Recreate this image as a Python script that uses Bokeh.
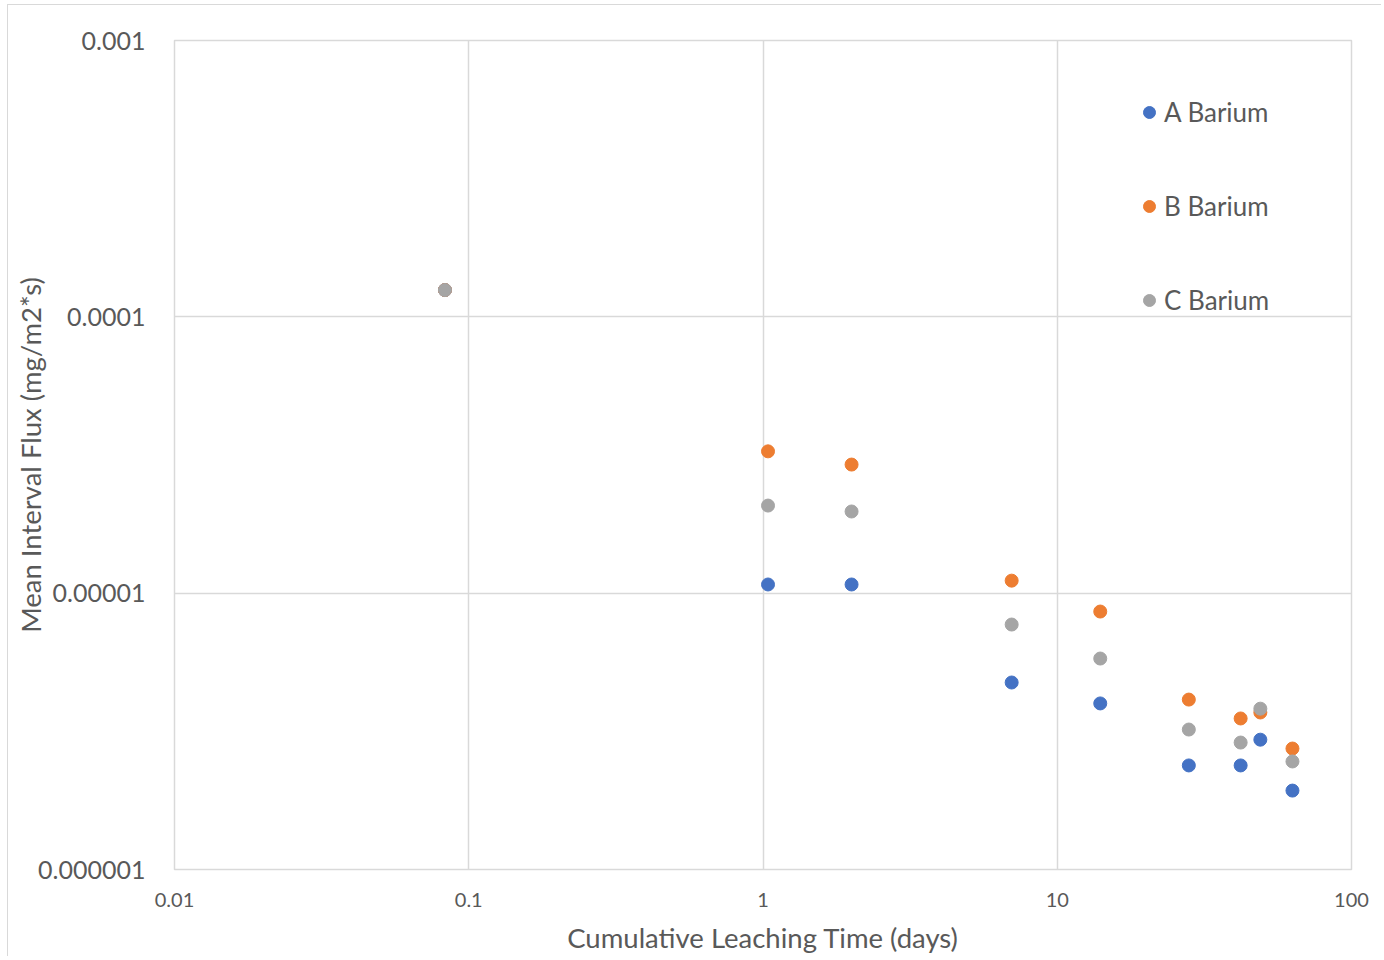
from bokeh.plotting import figure
from bokeh.models import (ColumnDataSource, FixedTicker, CustomJSTickFormatter,
                          Legend, LegendItem)
from bokeh.embed import file_html
from bokeh.resources import INLINE

# ---- data ----
days = [0.083, 1.04, 2, 7, 14, 28, 42, 49, 63]
a_barium = [1.25e-4, 1.075e-5, 1.075e-5, 4.75e-6, 3.99e-6, 2.38e-6, 2.38e-6, 2.95e-6, 1.93e-6]
b_barium = [1.25e-4, 3.26e-5, 2.92e-5, 1.11e-5, 8.58e-6, 4.12e-6, 3.52e-6, 3.70e-6, 2.74e-6]
c_barium = [1.25e-4, 2.075e-5, 1.975e-5, 7.70e-6, 5.80e-6, 3.21e-6, 2.88e-6, 3.82e-6, 2.46e-6]
series_names = ["A Barium", "B Barium", "C Barium"]
x_ticks = [0.01, 0.1, 1, 10, 100]
y_ticks = [1e-6, 1e-5, 1e-4, 1e-3]

colors = ["#4472C4", "#ED7D31", "#A5A5A5"]
FONT = "Lato"
TXT = "#595959"
GRID = "#d9d9d9"

W, H = 1374, 952
FL, FT, FR, FB = 166, 35, 1343, 864   # desired frame edges in figure coords
p = figure(width=W, height=H, x_axis_type="log", y_axis_type="log",
           x_range=(0.01, 100), y_range=(1e-6, 1e-3),
           output_backend="svg", toolbar_location=None,
           min_border_left=FL, min_border_right=W - FR,
           min_border_top=FT, min_border_bottom=H - FB)
p.styles = {"margin-left": "7px", "margin-top": "4px",
            "border-left": f"1px solid {GRID}", "border-top": f"1px solid {GRID}"}

p.outline_line_color = GRID
p.outline_line_width = 1.5

p.xaxis.ticker = FixedTicker(ticks=x_ticks, minor_ticks=[])
p.yaxis.ticker = FixedTicker(ticks=y_ticks, minor_ticks=[])
fmt_code = "return tick.toFixed(Math.max(0, Math.round(-Math.log10(tick))));"
p.xaxis.formatter = CustomJSTickFormatter(code=fmt_code)
p.yaxis.formatter = CustomJSTickFormatter(code=fmt_code)

for ax in (p.xaxis, p.yaxis):
    ax.axis_line_color = None
    ax.major_tick_line_color = None
    ax.minor_tick_line_color = None
    ax.major_label_text_font = FONT
    ax.major_label_text_color = TXT
    ax.axis_label_text_font = FONT
    ax.axis_label_text_color = TXT
    ax.axis_label_text_font_style = "normal"
    ax.axis_label_text_font_size = "27.5px"

p.xaxis.major_label_text_font_size = "20px"
p.yaxis.major_label_text_font_size = "25px"
p.xaxis.major_label_standoff = 17
p.yaxis.major_label_standoff = 23
p.xaxis.axis_label = "Cumulative Leaching Time (days)"
p.yaxis.axis_label = "Mean Interval Flux (mg/m2*s)"
p.xaxis.axis_label_standoff = 11
p.yaxis.axis_label_standoff = -12

for g in (p.xgrid, p.ygrid):
    g.grid_line_color = GRID
    g.grid_line_width = 1.5

items = []
for name, vals, col in zip(series_names, [a_barium, b_barium, c_barium], colors):
    src = ColumnDataSource(dict(x=days, y=vals))
    r = p.scatter("x", "y", source=src, size=13, fill_color=col, line_color=col)
    items.append(LegendItem(label=name, renderers=[r]))

legend = Legend(items=items, location=(960, 553))
legend.border_line_color = None
legend.background_fill_alpha = 0
legend.padding = 0
legend.margin = 0
legend.glyph_width = 30
legend.glyph_height = 30
legend.label_height = 30
legend.spacing = 62
legend.label_standoff = 0
legend.label_text_font = FONT
legend.label_text_font_size = "26px"
legend.label_text_color = TXT
p.add_layout(legend, "center")

open("out.html", "w").write(file_html(p, INLINE))
